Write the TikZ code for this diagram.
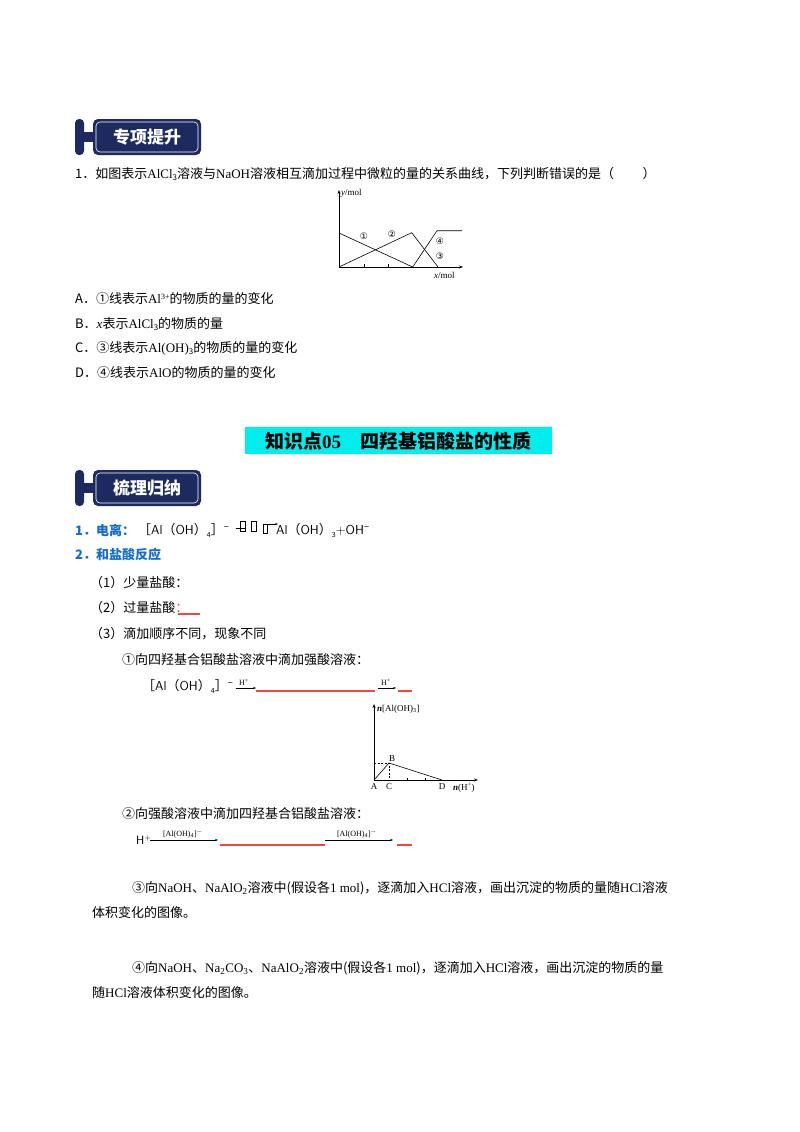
\documentclass[tikz,border=0pt]{standalone}
\usepackage{fontspec}
\setmainfont{Noto Sans CJK SC}
\newfontfamily\lat{Liberation Serif}
\newfontfamily\sym{DejaVu Sans}
\usetikzlibrary{arrows.meta}
\definecolor{navy}{RGB}{28,42,95}
\definecolor{myred}{RGB}{245,70,70}
\definecolor{myblue}{RGB}{20,110,200}
\definecolor{mycyan}{RGB}{0,238,238}
\tikzset{
 txt/.style={anchor=west,inner sep=0,font=\fontsize{13}{15}\selectfont},
 bluet/.style={txt,text=myblue,font=\fontsize{13}{15}\selectfont\bfseries},
 red line/.style={draw=myred,line width=1.3pt},
 ax/.style={line width=0.6pt,-{Stealth[length=4pt,width=3pt]}},
 gl/.style={line width=0.6pt},
 small/.style={inner sep=0,font=\lat\fontsize{9}{10}\selectfont}
}
\newcommand{\mybanner}[3]{%
 \fill[navy,rounded corners=4pt] (75,#1) rectangle (84,#1+36);
 \fill[navy] (84,#1+13) rectangle (95,#1+23);
 \fill[navy,rounded corners=5pt] (93,#1) rectangle (201,#1+36);
 \draw[white,line width=0.6pt,rounded corners=4pt] (96,#1+3) rectangle (198,#1+33);
 \node[#3,text=white,font=\fontsize{17}{19}\selectfont\bfseries] at (147,#1+18) {#2};}
\begin{document}
\begin{tikzpicture}[x=1pt,y=-1pt]
\useasboundingbox (0,0) rectangle (800,1132);
\fill[white] (0,0) rectangle (800,1132);
\mybanner{119}{专项提升}{name=b1}
\node[txt] (q1) at (75,174) {1．如图表示{\lat AlCl}\raisebox{-2pt}{\fontsize{8}{9}\selectfont 3}溶液与{\lat NaOH}溶液相互滴加过程中微粒的量的关系曲线，下列判断错误的是（\hspace{2.2em}）};
% graph 1
\coordinate (o1) at (339,267);
\coordinate (yt) at (339,190);
\coordinate (xr) at (463,267);
\draw[ax] (o1) -- (yt);
\draw[ax] (o1) -- (xr);
\node[small,anchor=west] (ylab) at (341,193) {\itshape y\upshape/mol};
\node[small,anchor=west] (xlab) at (434,275) {\itshape x\upshape/mol};
\coordinate (p1) at (339,233); \coordinate (p2) at (412.7,267);
\coordinate (p3) at (411.7,232.7); \coordinate (p4) at (438,267);
\coordinate (p5) at (437,230.7); \coordinate (p6) at (462,230.7);
\draw[gl] (p1) -- (p2) -- (p5) -- (p6);
\draw[gl] (o1) -- (p3) -- (p4);
\draw[gl] (364,267) -- (364,264) (388,267) -- (388,264);
\node[font=\sym\fontsize{9}{10}\selectfont,inner sep=0] (c1) at (364,236) {①};
\node[font=\sym\fontsize{9}{10}\selectfont,inner sep=0] (c2) at (392,234) {②};
\node[font=\sym\fontsize{9}{10}\selectfont,inner sep=0] (c4) at (440,241) {④};
\node[font=\sym\fontsize{9}{10}\selectfont,inner sep=0] (c3) at (440,256) {③};
\node[txt] (oa) at (75,299) {A．①线表示{\lat Al}\raisebox{4pt}{\lat\fontsize{8}{9}\selectfont 3+}的物质的量的变化};
\node[txt] (ob) at (75,324) {B．{\lat\itshape x}表示{\lat AlCl}\raisebox{-2pt}{\fontsize{8}{9}\selectfont 3}的物质的量};
\node[txt] (oc) at (75,348) {C．③线表示{\lat Al(OH)}\raisebox{-2pt}{\fontsize{8}{9}\selectfont 3}的物质的量的变化};
\node[txt] (od) at (75,373) {D．④线表示{\lat AlO}的物质的量的变化};
% title
\fill[mycyan] (245,427) rectangle (552,454);
\node[font=\fontsize{19}{21}\selectfont\bfseries,inner sep=0,text=black] (title) at (398,441) {知识点{\lat\bfseries 05}\hspace{1em}四羟基铝酸盐的性质};
\mybanner{470}{梳理归纳}{name=b2}
\node[bluet] (s1) at (75,530) {1．电离：};
\node[txt] (f1) at (138,530) {［{\sffamily Al}（{\sffamily OH}）\raisebox{-3pt}{\fontsize{7}{8}\selectfont 4}］\raisebox{4pt}{\fontsize{9}{9}\selectfont −}};
\draw[gl] (240,521) rectangle (245,531); \draw[gl] (251,521) rectangle (256,531);
\draw[gl] (263,524) rectangle (267,533);
\draw[gl,-{Stealth[length=3pt]}] (268,524) -- (278,524);
\draw[gl] (236,528) -- (246,528);
\node[txt] (f1b) at (276,530) {{\sffamily Al}（{\sffamily OH}）\raisebox{-3pt}{\fontsize{7}{8}\selectfont 3}{\sffamily +OH}\raisebox{4pt}{\fontsize{9}{9}\selectfont −}};
\node[bluet] (s2) at (75,555) {2．和盐酸反应};
\node[txt] (s21) at (90,583) {（1）少量盐酸：};
\node[txt] (s22) at (90,608) {（2）过量盐酸\textcolor{myred}{：}};
\draw[red line] (178,614) -- (200,614);
\node[txt] (s23) at (90,634) {（3）滴加顺序不同，现象不同};
\node[txt] (s231) at (122,660) {①向四羟基合铝酸盐溶液中滴加强酸溶液：};
\node[txt] (f2) at (142,686) {［{\sffamily Al}（{\sffamily OH}）\raisebox{-3pt}{\fontsize{7}{8}\selectfont 4}］\raisebox{4pt}{\fontsize{9}{9}\selectfont −}};
\draw[gl,-{Stealth[length=3pt]}] (236,688) -- (256,688);
\node[small,font=\lat\fontsize{8}{9}\selectfont] at (244,682) {H\textsuperscript{+}};
\draw[red line] (256,691) -- (375,691);
\draw[gl,-{Stealth[length=3pt]}] (378,688) -- (396,688);
\node[small,font=\lat\fontsize{8}{9}\selectfont] at (386,682) {H\textsuperscript{+}};
\draw[red line] (398,691) -- (412,691);
% graph 2
\coordinate (A) at (374,780); \coordinate (yt2) at (374,704);
\coordinate (xr2) at (478,780);
\coordinate (B) at (389,763); \coordinate (C) at (389,780); \coordinate (D) at (442,780);
\draw[ax] (A) -- (yt2); \draw[ax] (A) -- (xr2);
\draw[gl] (A) -- (B) -- (D);
\draw[gl,dash pattern=on 2pt off 1.5pt] (374,763) -- (B) -- (C);
\draw[gl] (407,780) -- (407,778) (425,780) -- (425,778);
\node[small,anchor=west] (ylab2) at (377,709) {\textbf{\itshape n}[Al(OH)\textsubscript{3}]};
\node[small,anchor=south] at (392,762) {B};
\node[small] at (374,787) {A};
\node[small] at (389,787) {C};
\node[small] at (442,787) {D};
\node[small,anchor=west] (xlab2) at (453,788) {\textbf{\itshape n}(H\textsuperscript{+})};
\node[txt] (s232) at (122,814) {②向强酸溶液中滴加四羟基合铝酸盐溶液：};
\node[txt,font=\sffamily\fontsize{12}{14}\selectfont] (h) at (136,840) {H\textsuperscript{+}};
\draw[gl,-{Stealth[length=3pt]}] (150,840) -- (218,840);
\node[small,font=\lat\fontsize{8}{9}\selectfont] at (183,834) {[Al(OH)\textsubscript{4}]\textsuperscript{$-$}};
\draw[red line] (220,845) -- (325,845);
\draw[gl,-{Stealth[length=3pt]}] (325,840) -- (393,840);
\node[small,font=\lat\fontsize{8}{9}\selectfont] at (357,834) {[Al(OH)\textsubscript{4}]\textsuperscript{$-$}};
\draw[red line] (397,845) -- (412,845);
\node[txt] (p3t) at (132,888) {③向{\lat NaOH}、{\lat NaAlO\textsubscript{2}}溶液中(假设各{\lat 1 mol})，逐滴加入{\lat HCl}溶液，画出沉淀的物质的量随{\lat HCl}溶液};
\node[txt] (p3u) at (92,913) {体积变化的图像。};
\node[txt] (p4t) at (132,968) {④向{\lat NaOH}、{\lat Na\textsubscript{2}CO\textsubscript{3}}、{\lat NaAlO\textsubscript{2}}溶液中(假设各{\lat 1 mol})，逐滴加入{\lat HCl}溶液，画出沉淀的物质的量};
\node[txt] (p4u) at (92,993) {随{\lat HCl}溶液体积变化的图像。};
\end{tikzpicture}
\end{document}
